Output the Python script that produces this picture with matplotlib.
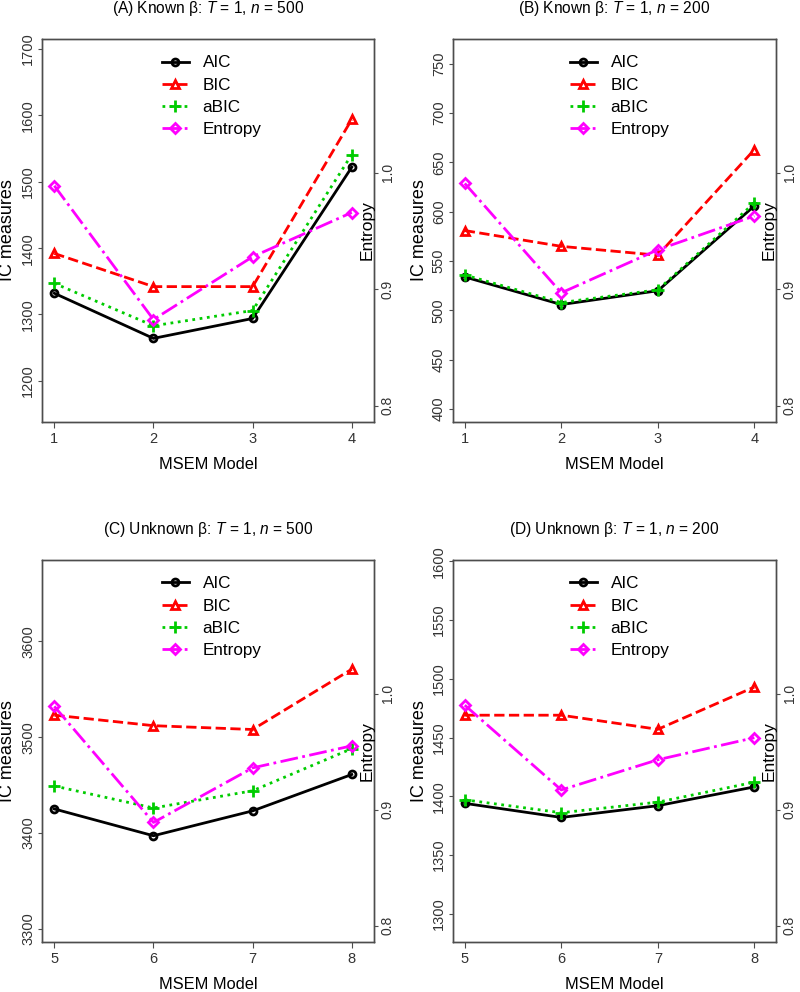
import matplotlib
matplotlib.use("Agg")
import matplotlib.pyplot as plt
from matplotlib import font_manager

# fonts: R output looks condensed, use a narrow sans if present
installed = {f.name for f in font_manager.fontManager.ttflist}
plain = "Liberation Sans" if "Liberation Sans" in installed else "DejaVu Sans"
narrow = "Liberation Sans Narrow" if "Liberation Sans Narrow" in installed else plain

plt.rcParams["font.family"] = [narrow, "DejaVu Sans"]
plt.rcParams["mathtext.fontset"] = "custom"
plt.rcParams["mathtext.rm"] = narrow
plt.rcParams["mathtext.it"] = narrow + ":italic"

# data
models_known = [1, 2, 3, 4]
models_unknown = [5, 6, 7, 8]

aic_a = [1332, 1264, 1294, 1522]
bic_a = [1392, 1342, 1342, 1594]
abic_a = [1347, 1283, 1306, 1541]
ent_a = [0.989, 0.874, 0.928, 0.966]

aic_b = [534, 506, 520, 606]
bic_b = [581, 565, 556, 663]
abic_b = [536, 508, 521, 609]
ent_b = [0.991, 0.897, 0.934, 0.963]

aic_c = [3425, 3397, 3423, 3461]
bic_c = [3523, 3512, 3508, 3571]
abic_c = [3449, 3426, 3444, 3488]
ent_c = [0.989, 0.889, 0.936, 0.955]

aic_d = [1394, 1382, 1392, 1408]
bic_d = [1469, 1469, 1457, 1493]
abic_d = [1397, 1386, 1395, 1412]
ent_d = [0.990, 0.917, 0.943, 0.962]

titles = [r"(A) Known β: $T$ = 1, $n$ = 500",
          r"(B) Known β: $T$ = 1, $n$ = 200",
          r"(C) Unknown β: $T$ = 1, $n$ = 500",
          r"(D) Unknown β: $T$ = 1, $n$ = 200"]

AXIS_GREY = "#4d4d4d"
TEXT_GREY = "#333333"


def draw_panel(ax, x, aic, bic, abic, ent, title, xlim, ylim, yticks):
    ax2 = ax.twinx()
    h1, = ax.plot(x, aic, color="black", lw=2, ls="-", marker="o", ms=5,
                  mfc="none", mew=2, label="AIC")
    h2, = ax.plot(x, bic, color="#ff0000", lw=2, ls="--", marker="^", ms=6,
                  mfc="none", mew=2, label="BIC")
    h3, = ax.plot(x, abic, color="#00cc00", lw=2, ls=":", marker="+", ms=8,
                  mew=2, label="aBIC")
    h4, = ax2.plot(x, ent, color="#ff00ff", lw=2, ls="-.", marker="D", ms=5,
                   mfc="none", mew=2, label="Entropy")

    ax.set_xlim(xlim)
    ax.set_ylim(ylim)
    ax2.set_ylim(0.786, 1.115)
    ax.set_xticks(x)
    ax.set_yticks(yticks)
    ax2.set_yticks([0.8, 0.9, 1.0])
    ax2.set_yticklabels(["0.8", "0.9", "1.0"])

    for a in (ax, ax2):
        for s in a.spines.values():
            s.set_color(AXIS_GREY)
            s.set_linewidth(1)
    ax.tick_params(axis="x", length=4.5, pad=3, labelsize=10.5,
                   color=AXIS_GREY, labelcolor=TEXT_GREY)
    ax.tick_params(axis="y", length=3, pad=2, labelsize=10.5,
                   labelrotation=90, color=AXIS_GREY, labelcolor=TEXT_GREY)
    ax2.tick_params(axis="y", length=3, pad=2, labelsize=10,
                    labelrotation=90, color=AXIS_GREY, labelcolor=TEXT_GREY)
    for lab in ax.get_yticklabels() + ax2.get_yticklabels():
        lab.set_family(plain)
        lab.set_verticalalignment("center")

    ax2.legend([h1, h2, h3, h4], ["AIC", "BIC", "aBIC", "Entropy"],
               loc="upper left", bbox_to_anchor=(0.34, 0.975),
               frameon=False, fontsize=12.3, handlelength=1.6,
               handletextpad=0.8, labelspacing=0.42, borderaxespad=0,
               borderpad=0.4)

    ax.text(0.5, 1.08, title, transform=ax.transAxes, ha="center",
            va="center", fontsize=11.2)
    ax.text(0.5, -0.112, "MSEM Model", transform=ax.transAxes,
            ha="center", va="center", fontsize=11.8)
    ax.text(-0.103, 0.5, "IC measures", transform=ax.transAxes, rotation=90,
            ha="center", va="center", fontsize=13, family=plain)
    ax2.text(0.979, 0.5, "Entropy", transform=ax2.transAxes, rotation=90,
             ha="center", va="center", fontsize=12.5, family=plain)


fig = plt.figure(figsize=(8, 9.92), dpi=100)
ax_a = fig.add_axes([0.0525, 0.5746, 0.415, 0.386])
ax_b = fig.add_axes([0.566, 0.5746, 0.404, 0.386])
ax_c = fig.add_axes([0.0525, 0.0504, 0.415, 0.385])
ax_d = fig.add_axes([0.566, 0.0504, 0.404, 0.385])

draw_panel(ax_a, models_known, aic_a, bic_a, abic_a, ent_a, titles[0],
           (0.876, 4.224), (1138, 1715), [1200, 1300, 1400, 1500, 1600, 1700])
draw_panel(ax_b, models_known, aic_b, bic_b, abic_b, ent_b, titles[1],
           (0.876, 4.224), (387, 775), [400, 450, 500, 550, 600, 650, 700, 750])
draw_panel(ax_c, models_unknown, aic_c, bic_c, abic_c, ent_c, titles[2],
           (4.876, 8.224), (3286, 3685), [3300, 3400, 3500, 3600])
draw_panel(ax_d, models_unknown, aic_d, bic_d, abic_d, ent_d, titles[3],
           (4.876, 8.224), (1276, 1601), [1300, 1350, 1400, 1450, 1500, 1550, 1600])

fig.savefig("out.png", dpi=100)
